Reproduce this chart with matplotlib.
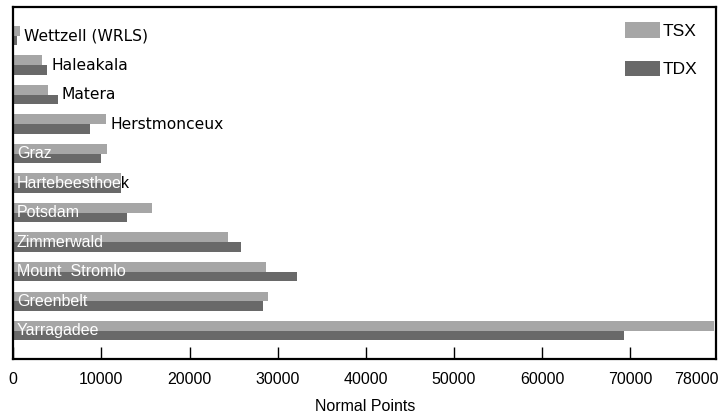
import matplotlib
matplotlib.use("Agg")
import matplotlib.pyplot as plt
import matplotlib.transforms as mtransforms
import numpy as np

# stations, top to bottom
stations = ["Wettzell (WRLS)", "Haleakala", "Matera", "Herstmonceux", "Graz",
            "Hartebeesthoek", "Potsdam", "Zimmerwald", "Mount  Stromlo",
            "Greenbelt", "Yarragadee"]
tsx = [750, 3250, 3950, 10550, 10650, 12200, 15750, 24400, 28700, 28950, 79500]
tdx = [450, 3850, 5050, 8750, 10000, 12200, 12950, 25850, 32250, 28300, 69300]
label_outside = [True, True, True, True, False, False, False, False, False, False, False]
xticks = [0, 10000, 20000, 30000, 40000, 50000, 60000, 70000, 78000]

c_tsx = "#a6a6a6"
c_tdx = "#696969"

fig = plt.figure(figsize=(7.19, 4.18), dpi=100)
ax = fig.add_axes([0.0185, 0.141, 0.978, 0.842])

y = np.arange(len(stations))
h = 0.33
ax.barh(y - h / 2, tsx, height=h, color=c_tsx, label="TSX")
ax.barh(y + h / 2, tdx, height=h, color=c_tdx, label="TDX")

ax.set_ylim(10.96, -0.97)
ax.set_xlim(0, 79800)
ax.set_yticks([])
ax.set_xticks(xticks)
ax.set_xticklabels([str(t) for t in xticks], fontfamily="Liberation Sans", fontsize=11.5)
ax.tick_params(axis="x", direction="in", length=9, width=1, pad=9)
ax.xaxis.get_major_ticks()[-1].tick1line.set_visible(False)
# last label sits a bit left so it stays inside the figure
last = ax.get_xticklabels()[-1]
last.set_transform(last.get_transform() + mtransforms.ScaledTranslation(-4 / 100, 0, fig.dpi_scale_trans))
for s in ax.spines.values():
    s.set_linewidth(1.6)

for i, name in enumerate(stations):
    end = max(tsx[i], tdx[i])
    if label_outside[i]:
        ax.annotate(name, (end, i), xytext=(3, 0), textcoords="offset points",
                    ha="left", va="center", fontsize=11.2, family="DejaVu Sans", color="black")
    else:
        # black where the text runs past the bars, white on top of them
        for col, rect in (("black", (end, i - h, 1e6, 2 * h)), ("white", (0, i - h, end, 2 * h))):
            t = ax.annotate(name, (0, i), xytext=(2.5, 0), textcoords="offset points",
                            ha="left", va="center", fontsize=11.5, family="Liberation Sans",
                            color=col)
            t.set_clip_path(plt.Rectangle(rect[:2], rect[2], rect[3], transform=ax.transData))

ax.set_xlabel("Normal Points", fontfamily="Liberation Sans", fontsize=11.5, labelpad=9)

ax.legend(loc="upper right", frameon=False, prop={"family": "Liberation Sans", "size": 12.5},
          handlelength=2.0, handleheight=1.0, labelspacing=1.25, handletextpad=0.15,
          borderaxespad=0.6, bbox_to_anchor=(0.997, 1.006))

fig.savefig("out.png", dpi=100)
